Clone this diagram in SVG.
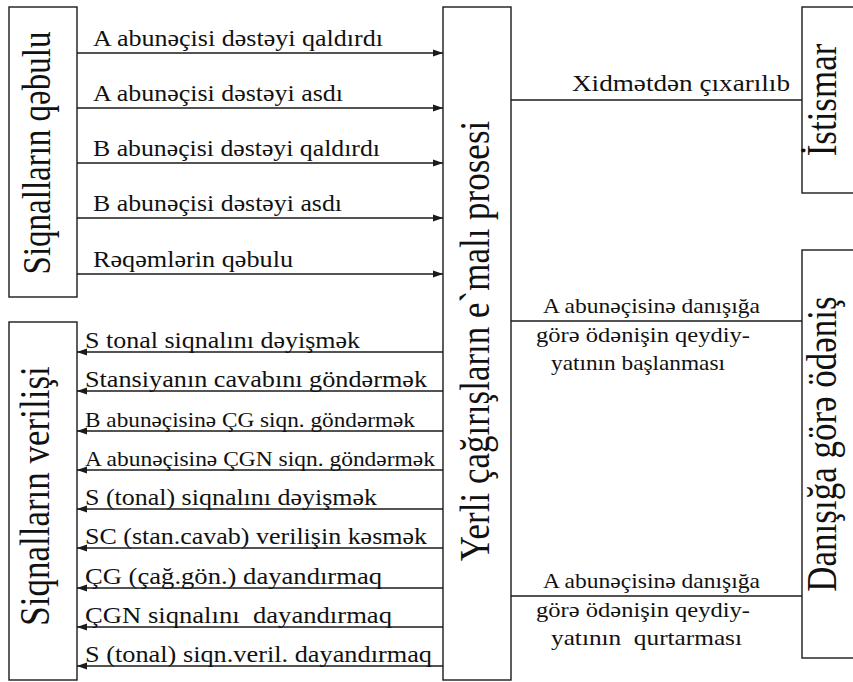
<svg xmlns="http://www.w3.org/2000/svg" width="853" height="682" viewBox="0 0 853 682">
  <style>
    .box { fill: #ffffff; stroke: #1a1a1a; stroke-width: 1.4; }
    .wire { fill: none; stroke: #1a1a1a; stroke-width: 1.3; }
    .t { font-family: "Liberation Serif", "Times New Roman", "DejaVu Serif", serif; fill: #111111; white-space: pre; }
    .lbl { font-size: 24px; }
    .sm { font-size: 21px; }
    .rt { font-size: 21px; }
    .big { font-size: 35px; }
    .big2 { font-size: 33px; }
  </style>
  <defs>
    <marker id="arrow" markerUnits="userSpaceOnUse" markerWidth="11" markerHeight="8" refX="10" refY="4" orient="auto">
      <path d="M0,0.5 L10,4 L0,7.5 Z" fill="#1a1a1a"/>
    </marker>
  </defs>

  <!-- blocks -->
  <g id="signal-receive">
    <rect class="box" x="9" y="7" width="68" height="290"/>
    <text class="t big2" transform="translate(50,153) scale(1.2,1) rotate(-90)" text-anchor="middle">Siqnalların qəbulu</text>
  </g>

  <g id="signal-send">
    <rect class="box" x="9" y="322" width="68" height="358"/>
    <text class="t big" transform="translate(49,496) scale(1.2,1) rotate(-90)" text-anchor="middle">Siqnalların verilişi</text>
  </g>

  <g id="local-call-process">
    <rect class="box" x="443" y="7" width="68" height="673"/>
    <text class="t big" transform="translate(489,341) scale(1.2,1) rotate(-90)" text-anchor="middle">Yerli çağırışların e`malı prosesi</text>
  </g>

  <g id="operation">
    <rect class="box" x="802" y="7" width="60" height="186"/>
    <text class="t big" transform="translate(836,100) scale(1.2,1) rotate(-90)" text-anchor="middle">İstismar</text>
  </g>

  <g id="call-billing">
    <rect class="box" x="802" y="250" width="60" height="408"/>
    <text class="t big" transform="translate(836,444) scale(1.2,1) rotate(-90)" text-anchor="middle">Danışığa görə ödəniş</text>
  </g>

  <!-- connectors -->
  <g id="connectors">
    <!-- incoming signals -->
    <line class="wire" x1="77" y1="53" x2="443" y2="53" marker-end="url(#arrow)"/>
    <line class="wire" x1="77" y1="108" x2="443" y2="108" marker-end="url(#arrow)"/>
    <line class="wire" x1="77" y1="163" x2="443" y2="163" marker-end="url(#arrow)"/>
    <line class="wire" x1="77" y1="218" x2="443" y2="218" marker-end="url(#arrow)"/>
    <line class="wire" x1="77" y1="274" x2="443" y2="274" marker-end="url(#arrow)"/>

    <!-- outgoing signals -->
    <line class="wire" x1="443" y1="352" x2="77" y2="352" marker-end="url(#arrow)"/>
    <line class="wire" x1="443" y1="391" x2="77" y2="391" marker-end="url(#arrow)"/>
    <line class="wire" x1="443" y1="431" x2="77" y2="431" marker-end="url(#arrow)"/>
    <line class="wire" x1="443" y1="470" x2="77" y2="470" marker-end="url(#arrow)"/>
    <line class="wire" x1="443" y1="509" x2="77" y2="509" marker-end="url(#arrow)"/>
    <line class="wire" x1="443" y1="548" x2="77" y2="548" marker-end="url(#arrow)"/>
    <line class="wire" x1="443" y1="588" x2="77" y2="588" marker-end="url(#arrow)"/>
    <line class="wire" x1="443" y1="627" x2="77" y2="627" marker-end="url(#arrow)"/>
    <line class="wire" x1="443" y1="666" x2="77" y2="666" marker-end="url(#arrow)"/>

    <!-- links to the right-hand blocks -->
    <line class="wire" x1="511" y1="100" x2="802" y2="100"/>
    <line class="wire" x1="511" y1="321" x2="802" y2="321"/>
    <line class="wire" x1="511" y1="596" x2="802" y2="596"/>

    <!-- labels -->
    <text class="t lbl" x="93" y="46" textLength="290" lengthAdjust="spacingAndGlyphs">A abunəçisi dəstəyi qaldırdı</text>
    <text class="t lbl" x="93" y="101" textLength="250" lengthAdjust="spacingAndGlyphs">A abunəçisi dəstəyi asdı</text>
    <text class="t lbl" x="93" y="156" textLength="287" lengthAdjust="spacingAndGlyphs">B abunəçisi dəstəyi qaldırdı</text>
    <text class="t lbl" x="93" y="211" textLength="249" lengthAdjust="spacingAndGlyphs">B abunəçisi dəstəyi asdı</text>
    <text class="t lbl" x="93" y="267" textLength="200" lengthAdjust="spacingAndGlyphs">Rəqəmlərin qəbulu</text>

    <text class="t lbl" x="85" y="348" textLength="275" lengthAdjust="spacingAndGlyphs">S tonal siqnalını dəyişmək</text>
    <text class="t lbl" x="85" y="387" textLength="342" lengthAdjust="spacingAndGlyphs">Stansiyanın cavabını göndərmək</text>
    <text class="t sm" x="85" y="427" textLength="330" lengthAdjust="spacingAndGlyphs">B abunəçisinə ÇG siqn. göndərmək</text>
    <text class="t sm" x="85" y="466" textLength="350" lengthAdjust="spacingAndGlyphs">A abunəçisinə ÇGN siqn. göndərmək</text>
    <text class="t lbl" x="85" y="505" textLength="292" lengthAdjust="spacingAndGlyphs">S (tonal) siqnalını dəyişmək</text>
    <text class="t lbl" x="85" y="544" textLength="342" lengthAdjust="spacingAndGlyphs">SC (stan.cavab) verilişin kəsmək</text>
    <text class="t lbl" x="85" y="584" textLength="297" lengthAdjust="spacingAndGlyphs">ÇG (çağ.gön.) dayandırmaq</text>
    <text class="t lbl" x="85" y="623" textLength="307" lengthAdjust="spacingAndGlyphs">ÇGN siqnalını  dayandırmaq</text>
    <text class="t lbl" x="85" y="662" textLength="347" lengthAdjust="spacingAndGlyphs">S (tonal) siqn.veril. dayandırmaq</text>

    <text class="t lbl" x="572" y="91" textLength="218" lengthAdjust="spacingAndGlyphs">Xidmətdən çıxarılıb</text>

    <text class="t rt" x="543" y="313" textLength="217" lengthAdjust="spacingAndGlyphs">A abunəçisinə danışığa</text>
    <text class="t rt" x="536" y="342" textLength="214" lengthAdjust="spacingAndGlyphs">görə ödənişin qeydiy-</text>
    <text class="t rt" x="551" y="370" textLength="174" lengthAdjust="spacingAndGlyphs">yatının başlanması</text>

    <text class="t rt" x="543" y="588" textLength="217" lengthAdjust="spacingAndGlyphs">A abunəçisinə danışığa</text>
    <text class="t rt" x="536" y="617" textLength="214" lengthAdjust="spacingAndGlyphs">görə ödənişin qeydiy-</text>
    <text class="t rt" x="551" y="645" textLength="191" lengthAdjust="spacingAndGlyphs">yatının  qurtarması</text>
  </g>
</svg>
